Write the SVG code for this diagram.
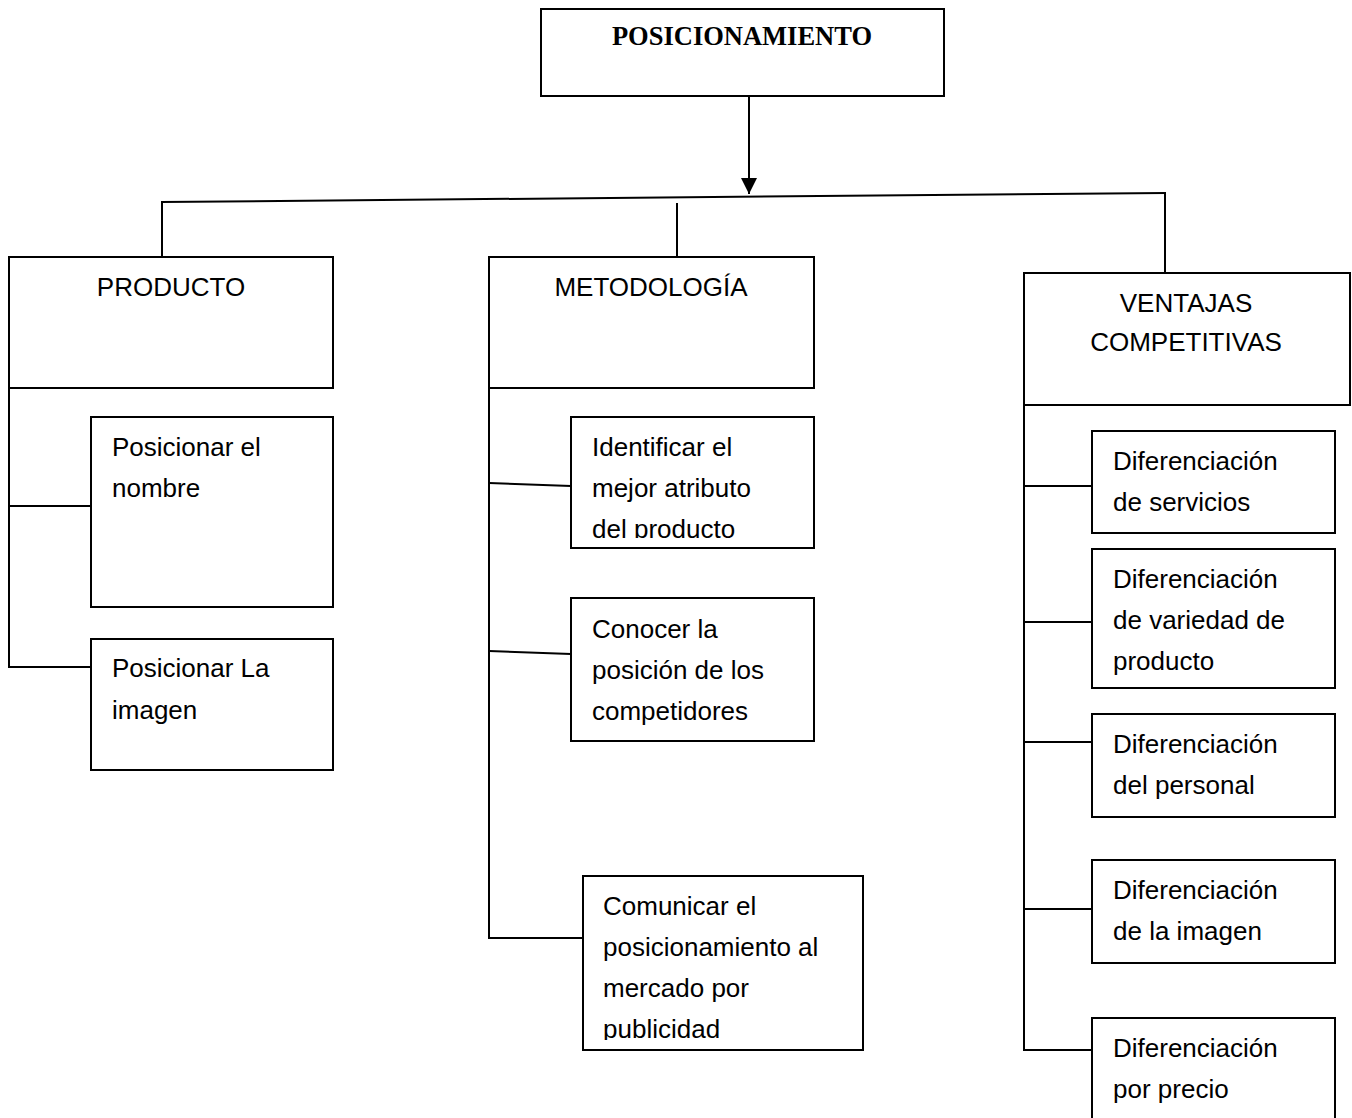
<svg xmlns="http://www.w3.org/2000/svg" width="1352" height="1118" viewBox="0 0 1352 1118">
  <style>
    .box { fill: #ffffff; stroke: #000000; stroke-width: 2; }
    .ln { fill: none; stroke: #000000; stroke-width: 2; }
    .t { font-family: "Liberation Sans", Arial, sans-serif; font-size: 26px; fill: #000000; }
    .c { text-anchor: middle; }
    .title { font-family: "Liberation Serif", "Times New Roman", serif; font-size: 26.5px; font-weight: bold; fill: #000000; text-anchor: middle; }
  </style>
  <defs>
    <marker id="arrow" viewBox="0 0 16 16" refX="16" refY="8" markerWidth="16" markerHeight="16" markerUnits="userSpaceOnUse" orient="auto">
      <path d="M0,0 L16,8 L0,16 Z" fill="#000000"/>
    </marker>
    <clipPath id="clipIdent"><rect x="571" y="417" width="243" height="121"/></clipPath>
    <clipPath id="clipComun"><rect x="583" y="876" width="280" height="164"/></clipPath>
  </defs>
  <rect width="1352" height="1118" fill="#ffffff"/>

  <!-- connectors -->
  <g id="connectors">
    <line class="ln" x1="749" y1="96" x2="749" y2="194" marker-end="url(#arrow)"/>
    <line class="ln" x1="161" y1="202" x2="1166" y2="193"/>
    <line class="ln" x1="162" y1="202" x2="162" y2="257"/>
    <line class="ln" x1="677" y1="203" x2="677" y2="257"/>
    <line class="ln" x1="1165" y1="193" x2="1165" y2="273"/>

    <!-- PRODUCTO branch -->
    <polyline class="ln" points="9,388 9,667 91,667"/>
    <line class="ln" x1="9" y1="506" x2="91" y2="506"/>

    <!-- METODOLOGÍA branch -->
    <polyline class="ln" points="489,388 489,938 583,938"/>
    <line class="ln" x1="489" y1="483" x2="571" y2="486"/>
    <line class="ln" x1="489" y1="651" x2="571" y2="654"/>

    <!-- VENTAJAS branch -->
    <polyline class="ln" points="1024,405 1024,1050 1092,1050"/>
    <line class="ln" x1="1024" y1="486" x2="1092" y2="486"/>
    <line class="ln" x1="1024" y1="622" x2="1092" y2="622"/>
    <line class="ln" x1="1024" y1="742" x2="1092" y2="742"/>
    <line class="ln" x1="1024" y1="909" x2="1092" y2="909"/>
  </g>

  <g id="posicionamiento">
    <rect class="box" x="541" y="9" width="403" height="87"/>
    <text class="title" x="742" y="45">POSICIONAMIENTO</text>
  </g>

  <g id="producto">
    <rect class="box" x="9" y="257" width="324" height="131"/>
    <text class="t c" x="171" y="296">PRODUCTO</text>
  </g>

  <g id="metodologia">
    <rect class="box" x="489" y="257" width="325" height="131"/>
    <text class="t c" x="651" y="296">METODOLOGÍA</text>
  </g>

  <g id="ventajas">
    <rect class="box" x="1024" y="273" width="326" height="132"/>
    <text class="t c" x="1186" y="312">VENTAJAS</text>
    <text class="t c" x="1186" y="351">COMPETITIVAS</text>
  </g>

  <g id="pos-nombre">
    <rect class="box" x="91" y="417" width="242" height="190"/>
    <text class="t" x="112" y="456">Posicionar el</text>
    <text class="t" x="112" y="497">nombre</text>
  </g>

  <g id="pos-imagen">
    <rect class="box" x="91" y="639" width="242" height="131"/>
    <text class="t" x="112" y="677">Posicionar La</text>
    <text class="t" x="112" y="719">imagen</text>
  </g>

  <g id="identificar">
    <rect class="box" x="571" y="417" width="243" height="131"/>
    <g clip-path="url(#clipIdent)">
      <text class="t" x="592" y="456">Identificar el</text>
      <text class="t" x="592" y="497">mejor atributo</text>
      <text class="t" x="592" y="538">del producto</text>
    </g>
  </g>

  <g id="conocer">
    <rect class="box" x="571" y="598" width="243" height="143"/>
    <text class="t" x="592" y="638">Conocer la</text>
    <text class="t" x="592" y="679">posición de los</text>
    <text class="t" x="592" y="720">competidores</text>
  </g>

  <g id="comunicar">
    <rect class="box" x="583" y="876" width="280" height="174"/>
    <g clip-path="url(#clipComun)">
      <text class="t" x="603" y="915">Comunicar el</text>
      <text class="t" x="603" y="956">posicionamiento al</text>
      <text class="t" x="603" y="997">mercado por</text>
      <text class="t" x="603" y="1038">publicidad</text>
    </g>
  </g>

  <g id="dif-servicios">
    <rect class="box" x="1092" y="431" width="243" height="102"/>
    <text class="t" x="1113" y="470">Diferenciación</text>
    <text class="t" x="1113" y="511">de servicios</text>
  </g>

  <g id="dif-variedad">
    <rect class="box" x="1092" y="549" width="243" height="139"/>
    <text class="t" x="1113" y="588">Diferenciación</text>
    <text class="t" x="1113" y="629">de variedad de</text>
    <text class="t" x="1113" y="670">producto</text>
  </g>

  <g id="dif-personal">
    <rect class="box" x="1092" y="714" width="243" height="103"/>
    <text class="t" x="1113" y="753">Diferenciación</text>
    <text class="t" x="1113" y="794">del personal</text>
  </g>

  <g id="dif-imagen">
    <rect class="box" x="1092" y="860" width="243" height="103"/>
    <text class="t" x="1113" y="899">Diferenciación</text>
    <text class="t" x="1113" y="940">de la imagen</text>
  </g>

  <g id="dif-precio">
    <rect class="box" x="1092" y="1018" width="243" height="110"/>
    <text class="t" x="1113" y="1057">Diferenciación</text>
    <text class="t" x="1113" y="1098">por precio</text>
  </g>
</svg>
